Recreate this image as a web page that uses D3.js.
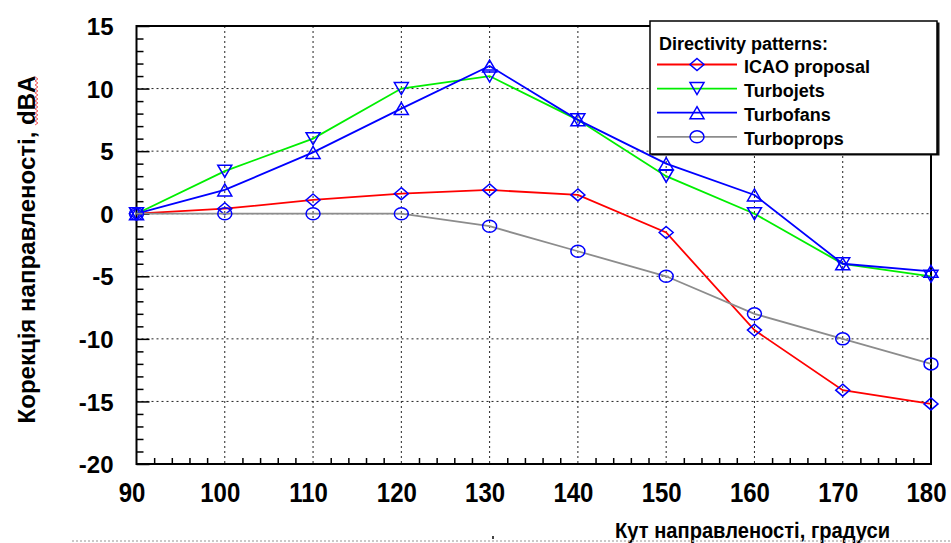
<!DOCTYPE html>
<html>
<head>
<meta charset="utf-8">
<script src="https://cdn.jsdelivr.net/npm/d3@7"></script>
<style>
  html, body { margin: 0; padding: 0; background: #fff; }
  svg { display: block; }
  text { font-family: "Liberation Sans", Arial, sans-serif; font-weight: bold; fill: #000; }
</style>
</head>
<body>
<svg id="chart" width="951" height="543"></svg>
<script>
// Directivity angle, degrees
const angles = [90, 100, 110, 120, 130, 140, 150, 160, 170, 180];

// Directivity corrections, dBA
const icaoProposal = [0, 0.4, 1.1, 1.6, 1.9, 1.5, -1.5, -9.3, -14.1, -15.2];
const turbojets    = [0, 3.4, 6.0, 10.0, 11.0, 7.5, 3.0, 0.0, -4.0, -5.0];
const turbofans    = [0, 1.9, 4.9, 8.4, 11.8, 7.5, 4.0, 1.5, -4.0, -4.6];
const turboprops   = [0, 0, 0, 0, -1.0, -3.0, -5.0, -8.0, -10.0, -12.0];

const seriesNames  = ["ICAO proposal", "Turbojets", "Turbofans", "Turboprops"];
const seriesValues = [icaoProposal, turbojets, turbofans, turboprops];

const xTicks = [90, 100, 110, 120, 130, 140, 150, 160, 170, 180];
const yTicks = [-20, -15, -10, -5, 0, 5, 10, 15];

const legendTitle = "Directivity patterns:";
const xTitle = "Кут направленості, градуси";
const yTitle = "Корекція направленості, dBA";

// ---- styling ----
const lineColors = ["#ff0000", "#00ee00", "#0000ff", "#8c8c8c"];
const markerColor = "#0000ff";
const markerPaths = [
  "M0,-6L7,0L0,6L-7,0Z",   // diamond
  "M-7,-6L7,-6L0,6Z",      // down triangle
  "M0,-6L7,6L-7,6Z",       // up triangle
  null                     // ellipse
];

const svg = d3.select("#chart");

const x = d3.scaleLinear().domain([90, 180]).range([136.5, 931]);
const y = d3.scaleLinear().domain([-20, 15]).range([464, 26]);

// dotted grid
const grid = svg.append("g").attr("stroke", "#222").attr("stroke-width", 1)
  .attr("stroke-dasharray", "2,3").attr("fill", "none");
grid.selectAll("line.v").data(xTicks.filter(d => d > 90 && d < 180)).join("line")
  .attr("x1", d => x(d)).attr("x2", d => x(d))
  .attr("y1", y(15)).attr("y2", y(-20));
grid.selectAll("line.h").data(yTicks.filter(d => d > -20 && d < 15)).join("line")
  .attr("x1", x(90)).attr("x2", x(180))
  .attr("y1", d => y(d)).attr("y2", d => y(d));

// inward minor / major ticks
const yMinor = d3.range(-20, 15.01, 1).filter(v => v % 5 !== 0);
const xMinor = d3.range(90, 180.01, 2).filter(v => v % 10 !== 0);
svg.append("g").attr("transform", `translate(${x(90)},0)`)
  .call(d3.axisLeft(y).tickValues(yMinor).tickSize(-7).tickFormat(""))
  .call(g => g.select(".domain").remove())
  .selectAll("line").attr("stroke", "#000").attr("stroke-width", 1.5);
svg.append("g").attr("transform", `translate(${x(90)},0)`)
  .call(d3.axisLeft(y).tickValues(yTicks).tickSize(-13).tickFormat(""))
  .call(g => g.select(".domain").remove())
  .selectAll("line").attr("stroke", "#000").attr("stroke-width", 1.5);
svg.append("g").attr("transform", `translate(0,${y(-20)})`)
  .call(d3.axisBottom(x).tickValues(xMinor).tickSize(-6).tickFormat(""))
  .call(g => g.select(".domain").remove())
  .selectAll("line").attr("stroke", "#000").attr("stroke-width", 1.5);

// tick labels
const yAxis = svg.append("g").attr("transform", `translate(${x(90)},0)`)
  .call(d3.axisLeft(y).tickValues(yTicks).tickSize(0).tickPadding(23).tickFormat(d => String(d)));
yAxis.select(".domain").remove();
yAxis.selectAll("text").attr("font-size", 24).attr("dy", "0.36em")
  .style("font-family", '"Liberation Sans", Arial, sans-serif').style("font-weight", "bold");

const xAxis = svg.append("g").attr("transform", `translate(0,${y(-20)})`)
  .call(d3.axisBottom(x).tickValues(xTicks).tickSize(0).tickFormat(d => String(d)));
xAxis.select(".domain").remove();
xAxis.selectAll("text").attr("font-size", 24).attr("y", 0).attr("dy", 0)
  .attr("transform", "translate(-5,38) scale(1,1.16)")
  .style("font-family", '"Liberation Sans", Arial, sans-serif').style("font-weight", "bold");

// plot frame
svg.append("rect")
  .attr("x", x(90)).attr("y", y(15))
  .attr("width", x(180) - x(90)).attr("height", y(-20) - y(15))
  .attr("fill", "none").attr("stroke", "#000").attr("stroke-width", 2);

// series
const line = d3.line().x((d, i) => x(angles[i])).y(d => y(d));

function drawMarker(sel, k) {
  if (markerPaths[k]) {
    sel.append("path").attr("d", markerPaths[k]);
  } else {
    sel.append("ellipse").attr("rx", 7).attr("ry", 6);
  }
}

seriesValues.forEach((vals, k) => {
  const g = svg.append("g");
  g.append("path").datum(vals)
    .attr("d", line).attr("fill", "none")
    .attr("stroke", lineColors[k]).attr("stroke-width", 1.8);
  g.selectAll("g.m").data(vals).join("g")
    .attr("transform", (d, i) => `translate(${x(angles[i])},${y(d)})`)
    .attr("fill", "none").attr("stroke", markerColor).attr("stroke-width", 1.5)
    .each(function () { drawMarker(d3.select(this), k); });
});

// legend
const lg = svg.append("g").attr("transform", "translate(650,21)");
lg.append("rect").attr("x", 1.5).attr("y", 1.5).attr("width", 288).attr("height", 133)
  .attr("fill", "#111");
lg.append("rect").attr("x", 0).attr("y", 0).attr("width", 287).attr("height", 133)
  .attr("fill", "#fff").attr("stroke", "#000").attr("stroke-width", 1.5);
lg.append("text").attr("x", 9).attr("y", 29).attr("font-size", 18).text(legendTitle);
seriesNames.forEach((name, k) => {
  const cy = 43.5 + k * 24.1;
  const row = lg.append("g").attr("transform", `translate(0,${cy})`);
  row.append("line").attr("x1", 7).attr("x2", 87).attr("y1", 0).attr("y2", 0)
    .attr("stroke", lineColors[k]).attr("stroke-width", 1.8);
  const m = row.append("g").attr("transform", "translate(47,0)")
    .attr("fill", "none").attr("stroke", markerColor).attr("stroke-width", 1.5);
  drawMarker(m, k);
  row.append("text").attr("x", 94).attr("y", 8.5).attr("font-size", 18).text(name);
});

// axis titles
svg.append("text")
  .attr("x", 615).attr("y", 538)
  .attr("font-size", 22)
  .attr("textLength", 275).attr("lengthAdjust", "spacingAndGlyphs")
  .style("font-family", '"Liberation Sans Narrow", "Liberation Sans", Arial, sans-serif')
  .text(xTitle);

const yt = svg.append("text")
  .attr("transform", "translate(35,249.5) rotate(-90)")
  .attr("text-anchor", "middle")
  .attr("font-size", 24)
  .text(yTitle);

// red wavy spell-check underline under "dBA"
(function () {
  const node = yt.node();
  const total = node.getComputedTextLength();
  const n = yTitle.length;
  const sub = node.getSubStringLength(n - 3, 3);
  const yEnd = 249.5 - total / 2;
  const yStart = yEnd + sub;
  const pts = [];
  let s = 0;
  for (let yy = yStart; yy >= yEnd; yy -= 2, s++) pts.push([36.5 + (s % 2 ? 1.4 : -1.4), yy]);
  svg.append("path").attr("d", d3.line()(pts))
    .attr("fill", "none").attr("stroke", "#f04848").attr("stroke-width", 1);
})();

// page edge dotted rule
svg.append("line").attr("x1", 72).attr("x2", 951).attr("y1", 541).attr("y2", 541)
  .attr("stroke", "#b8b8b8").attr("stroke-width", 1.5).attr("stroke-dasharray", "2,2");
svg.append("rect").attr("x", 492).attr("y", 536).attr("width", 2).attr("height", 3).attr("fill", "#444");
</script>
</body>
</html>
